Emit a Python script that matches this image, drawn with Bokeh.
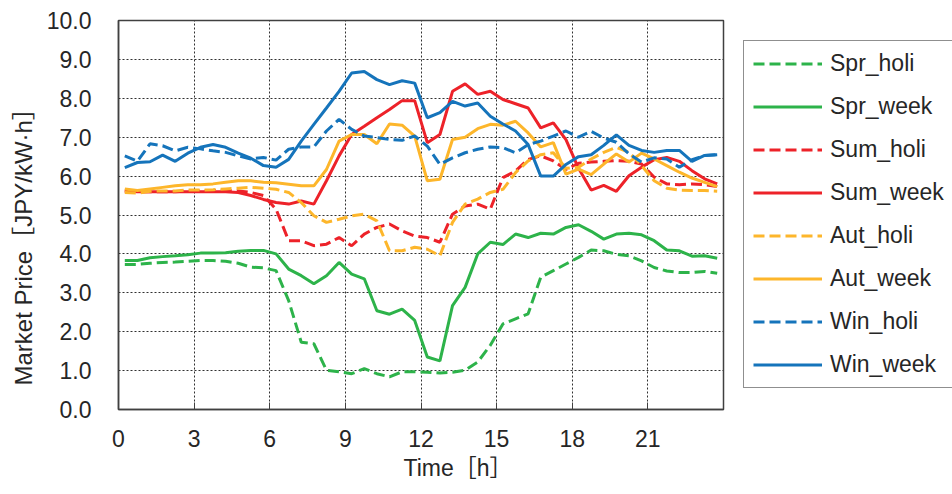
from bokeh.plotting import figure
from bokeh.layouts import row
from bokeh.models import (Range1d, FixedTicker, NumeralTickFormatter, Legend,
                          LegendItem, Title)
from bokeh.embed import file_html
from bokeh.resources import INLINE

# ---- data (half-hourly market price, JPY/kWh) ----
time_h = [0.25, 0.75, 1.25, 1.75, 2.25, 2.75, 3.25, 3.75, 4.25, 4.75, 5.25, 5.75,
          6.25, 6.75, 7.25, 7.75, 8.25, 8.75, 9.25, 9.75, 10.25, 10.75, 11.25, 11.75,
          12.25, 12.75, 13.25, 13.75, 14.25, 14.75, 15.25, 15.75, 16.25, 16.75, 17.25, 17.75,
          18.25, 18.75, 19.25, 19.75, 20.25, 20.75, 21.25, 21.75, 22.25, 22.75, 23.25, 23.75]

spr_holi = [3.73, 3.73, 3.76, 3.78, 3.79, 3.81, 3.83, 3.83, 3.81, 3.76, 3.66, 3.64,
            3.57, 2.80, 1.73, 1.69, 1.01, 0.97, 0.92, 1.05, 0.92, 0.84, 0.97, 0.97,
            0.96, 0.94, 0.96, 1.01, 1.22, 1.65, 2.20, 2.33, 2.46, 3.40, 3.57, 3.74,
            3.91, 4.10, 4.08, 3.99, 3.95, 3.82, 3.65, 3.56, 3.52, 3.52, 3.55, 3.50]
spr_week = [3.83, 3.83, 3.90, 3.93, 3.95, 3.98, 4.02, 4.02, 4.03, 4.07, 4.09, 4.09,
            4.00, 3.61, 3.44, 3.23, 3.44, 3.78, 3.48, 3.36, 2.54, 2.45, 2.58, 2.29,
            1.35, 1.25, 2.67, 3.14, 4.00, 4.30, 4.24, 4.51, 4.42, 4.53, 4.51, 4.68,
            4.75, 4.58, 4.38, 4.51, 4.53, 4.49, 4.34, 4.10, 4.08, 3.94, 3.95, 3.89]
sum_holi = [5.62, 5.60, 5.60, 5.60, 5.60, 5.62, 5.62, 5.63, 5.63, 5.62, 5.58, 5.50,
            5.15, 4.34, 4.34, 4.21, 4.25, 4.42, 4.21, 4.51, 4.68, 4.77, 4.59, 4.46,
            4.42, 4.30, 5.02, 5.23, 5.28, 5.15, 5.96, 6.13, 6.43, 6.52, 6.39, 6.17,
            6.33, 6.36, 6.38, 6.40, 6.38, 6.31, 5.97, 5.80, 5.78, 5.80, 5.78, 5.73]
sum_week = [5.62, 5.60, 5.60, 5.60, 5.60, 5.60, 5.60, 5.60, 5.60, 5.58, 5.50, 5.40,
            5.32, 5.28, 5.36, 5.28, 5.88, 6.52, 7.07, 7.28, 7.50, 7.71, 7.94, 7.94,
            6.86, 7.07, 8.18, 8.37, 8.10, 8.18, 7.97, 7.86, 7.75, 7.24, 7.37, 6.94,
            6.20, 5.64, 5.76, 5.61, 6.01, 6.23, 6.42, 6.48, 6.38, 6.14, 5.93, 5.80]
aut_holi = [5.58, 5.56, 5.61, 5.62, 5.62, 5.64, 5.64, 5.65, 5.67, 5.69, 5.71, 5.69,
            5.66, 5.58, 5.32, 4.98, 4.81, 4.89, 4.98, 5.02, 4.85, 4.08, 4.08, 4.17,
            4.12, 3.95, 4.81, 5.28, 5.41, 5.58, 5.66, 6.09, 6.39, 6.55, 6.60, 6.20,
            6.23, 6.44, 6.61, 6.74, 6.61, 6.27, 5.88, 5.69, 5.64, 5.63, 5.63, 5.61]
aut_week = [5.67, 5.63, 5.67, 5.71, 5.75, 5.78, 5.78, 5.80, 5.84, 5.88, 5.88, 5.84,
            5.83, 5.79, 5.75, 5.75, 6.17, 6.90, 7.07, 7.07, 6.83, 7.34, 7.31, 7.03,
            5.88, 5.92, 6.94, 7.00, 7.22, 7.33, 7.31, 7.41, 7.11, 6.75, 6.86, 6.05,
            6.18, 6.04, 6.31, 6.57, 6.36, 6.59, 6.44, 6.27, 6.10, 5.95, 5.84, 5.73]
win_holi = [6.52, 6.38, 6.83, 6.78, 6.65, 6.74, 6.70, 6.65, 6.61, 6.52, 6.44, 6.48,
            6.41, 6.69, 6.75, 6.75, 7.16, 7.46, 7.20, 7.03, 6.99, 6.94, 6.92, 7.03,
            6.77, 6.30, 6.47, 6.60, 6.69, 6.75, 6.73, 6.60, 6.81, 6.90, 7.03, 7.16,
            7.00, 7.15, 6.98, 6.87, 6.57, 6.36, 6.47, 6.44, 6.23, 6.42, 6.53, 6.55]
win_week = [6.22, 6.35, 6.37, 6.54, 6.38, 6.59, 6.74, 6.81, 6.74, 6.59, 6.46, 6.27,
            6.23, 6.43, 6.90, 7.33, 7.75, 8.18, 8.65, 8.69, 8.48, 8.35, 8.45, 8.39,
            7.50, 7.63, 7.92, 7.80, 7.88, 7.54, 7.34, 7.16, 6.81, 6.00, 6.00, 6.30,
            6.50, 6.55, 6.79, 7.06, 6.79, 6.66, 6.61, 6.66, 6.66, 6.38, 6.53, 6.55]

series_names = ["Spr_holi", "Spr_week", "Sum_holi", "Sum_week",
                "Aut_holi", "Aut_week", "Win_holi", "Win_week"]
series_values = [spr_holi, spr_week, sum_holi, sum_week,
                 aut_holi, aut_week, win_holi, win_week]
x_ticks = [0, 3, 6, 9, 12, 15, 18, 21]
y_ticks = [0, 1, 2, 3, 4, 5, 6, 7, 8, 9, 10]
x_title = "Time［h］"
y_title = "Market Price［JPY/kW·h］"

# ---- styles ----
colors = ["#2DB34A", "#2DB34A", "#ED2229", "#ED2229",
          "#FDB62B", "#FDB62B", "#1574BB", "#1574BB"]
dashes = ["11 5", "solid", "11 5", "solid", "11 5", "solid", "11 5", "solid"]
FONT = "Liberation Sans"
TFONT = "Liberation Sans, Noto Sans CJK JP"
TXT = "#262626"

# ---- main chart ----
p = figure(width=735, height=494, output_backend="svg", toolbar_location=None,
           x_range=Range1d(0, 24), y_range=Range1d(0, 10),
           min_border_left=117, min_border_right=12,
           min_border_top=20, min_border_bottom=85)
p.background_fill_color = "white"
p.border_fill_color = "white"
p.outline_line_color = "#404040"
p.outline_line_width = 1.5

for name, vals, c, d in zip(series_names, series_values, colors, dashes):
    p.line(time_h, vals, line_color=c, line_width=3, line_dash=d)

for ax in (p.xaxis[0], p.yaxis[0]):
    ax.axis_line_color = "#404040"
    ax.axis_line_width = 1.5
    ax.major_tick_line_color = "#404040"
    ax.minor_tick_line_color = None
    ax.major_label_text_font = FONT
    ax.major_label_text_font_size = "23px"
    ax.major_label_text_color = TXT

p.xaxis.ticker = FixedTicker(ticks=x_ticks)
p.xaxis.major_tick_in = 7
p.xaxis.major_tick_out = 0
p.xaxis.major_label_standoff = 20

p.yaxis.ticker = FixedTicker(ticks=y_ticks)
p.yaxis.formatter = NumeralTickFormatter(format="0.0")
p.yaxis.major_tick_in = 0
p.yaxis.major_tick_out = 0
p.yaxis.major_label_standoff = 27

p.xgrid.ticker = FixedTicker(ticks=x_ticks)
p.ygrid.ticker = FixedTicker(ticks=y_ticks)
for g in (p.xgrid[0], p.ygrid[0]):
    g.grid_line_color = "#303030"
    g.grid_line_width = 1
    g.grid_line_dash = "2 2"

p.add_layout(Title(text=y_title, align="left", offset=24, standoff=14,
                   text_font=TFONT, text_font_size="24px", text_color=TXT,
                   text_font_style="normal"), "left")
p.add_layout(Title(text=x_title, align="left", offset=285,
                   vertical_align="top", standoff=10,
                   text_font=TFONT, text_font_size="23px", text_color=TXT,
                   text_font_style="normal"), "below")

# ---- legend panel (same series, drawn out of view; only the legend shows) ----
q = figure(width=217, height=494, output_backend="svg", toolbar_location=None,
           x_range=Range1d(0, 24), y_range=Range1d(100, 110),
           min_border_left=0, min_border_right=0,
           min_border_top=0, min_border_bottom=0)
q.axis.visible = False
q.grid.visible = False
q.outline_line_color = None
q.background_fill_color = "white"
q.border_fill_color = "white"

items = []
for name, vals, c, d in zip(series_names, series_values, colors, dashes):
    r = q.line(time_h, vals, line_color=c, line_width=3, line_dash=d)
    items.append(LegendItem(label=name, renderers=[r]))

legend = Legend(items=items, location=(8, 21),
                label_text_font=FONT, label_text_font_size="23px",
                label_text_color=TXT,
                glyph_width=69, glyph_height=25, label_height=25,
                spacing=16, padding=9, margin=0, label_standoff=8,
                border_line_color="#202020", border_line_width=1,
                background_fill_color="white", background_fill_alpha=1)
q.add_layout(legend, "center")

layout = row(p, q, spacing=0)
open("out.html", "w").write(file_html(layout, INLINE))
